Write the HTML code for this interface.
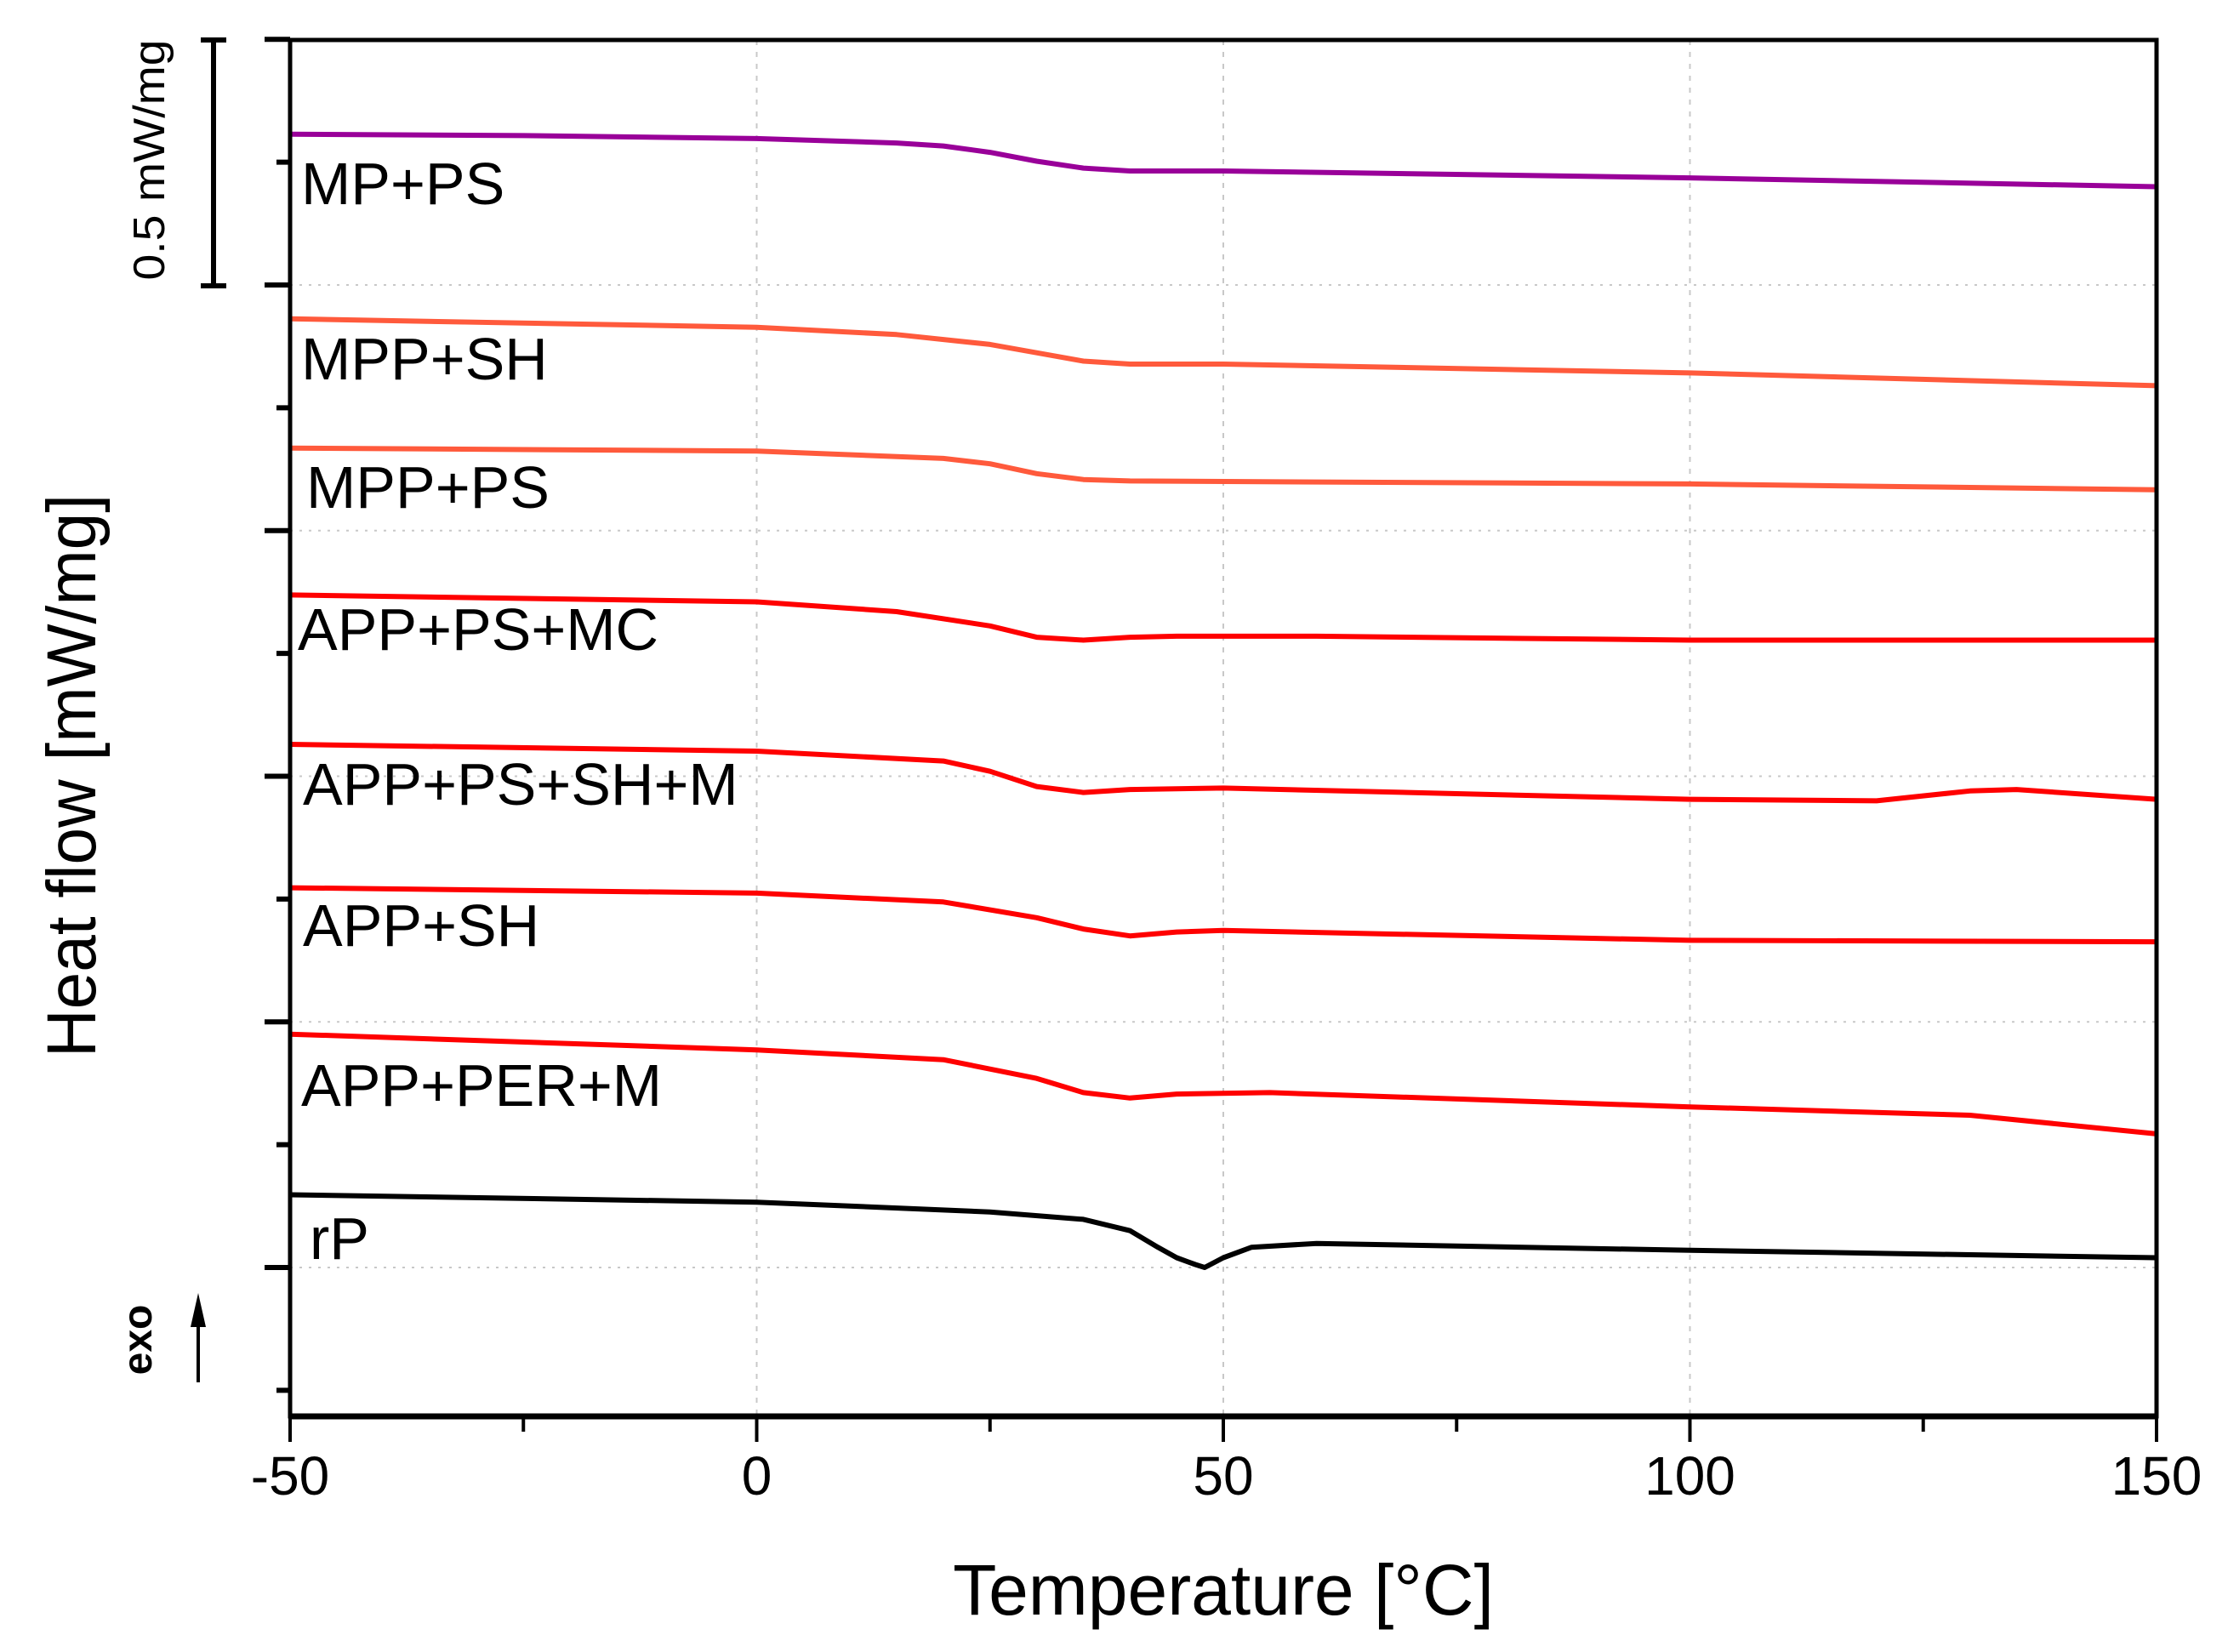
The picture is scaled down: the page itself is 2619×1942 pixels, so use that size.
<!DOCTYPE html>
<html><head><meta charset="utf-8"><style>
html,body{margin:0;padding:0;background:#fff;}
svg{display:block;font-family:"Liberation Sans",Arial,sans-serif;}
</style></head><body>
<svg id="chart" width="2619" height="1942" viewBox="0 0 2619 1942" xmlns="http://www.w3.org/2000/svg">
<g id="grid"></g>
<g id="series"></g>
<g id="axes"></g>
<g id="labels"></g>
<text x="1438" y="1898" font-size="84" text-anchor="middle">Temperature [°C]</text>
<text transform="translate(112,912) rotate(-90)" font-size="82" text-anchor="middle" textLength="662" lengthAdjust="spacingAndGlyphs">Heat flow [mW/mg]</text>
<g>
<line x1="251" y1="47" x2="251" y2="336" stroke="#000" stroke-width="6"/>
<line x1="236" y1="47" x2="266" y2="47" stroke="#000" stroke-width="6"/>
<line x1="236" y1="336" x2="266" y2="336" stroke="#000" stroke-width="6"/>
<text transform="translate(193,188) rotate(-90)" font-size="52" text-anchor="middle" textLength="283" lengthAdjust="spacingAndGlyphs">0.5 mW/mg</text>
</g>
<g>
<line x1="233" y1="1625" x2="233" y2="1555" stroke="#000" stroke-width="4"/>
<polygon points="224,1560 242,1560 233,1520" fill="#000"/>
<text transform="translate(178,1575) rotate(-90)" font-size="48" font-weight="bold" text-anchor="middle">exo</text>
</g>
</svg>
<script>
const temps = {
  mpps:[-50,-25,0,15,20,25,30,35,40,50,100,150],
  mppsh:[-50,0,15,25,30,35,40,50,100,150],
  mppps:[-50,0,20,25,30,35,40,100,150],
  appmc:[-50,0,15,25,30,35,40,45,60,100,150],
  appshm:[-50,0,20,25,30,35,40,50,100,120,130,135,150],
  appsh:[-50,0,20,30,35,40,45,50,100,150],
  apper:[-50,0,20,30,35,40,45,55,100,130,150],
  rp:[-50,0,25,35,40,43,45,47,48,50,53,60,100,150]
};
const valsMPPS=[2.307,2.304,2.298,2.289,2.283,2.270,2.252,2.238,2.232,2.232,2.218,2.200];
const valsMPPSH=[1.931,1.914,1.899,1.879,1.862,1.845,1.839,1.839,1.821,1.795];
const valsMPPPS=[1.668,1.662,1.647,1.636,1.616,1.604,1.601,1.595,1.583];
const valsAPPMC=[1.369,1.355,1.335,1.306,1.283,1.277,1.283,1.285,1.285,1.277,1.277];
const valsAPPSHM=[1.065,1.051,1.031,1.010,0.979,0.967,0.973,0.976,0.953,0.950,0.970,0.973,0.953];
const valsAPPSH=[0.773,0.762,0.744,0.712,0.689,0.675,0.683,0.686,0.666,0.663];
const valsAPPER=[0.475,0.443,0.423,0.385,0.356,0.345,0.353,0.356,0.327,0.310,0.272];
const valsRP=[0.148,0.133,0.113,0.098,0.075,0.041,0.020,0.006,0,0.020,0.041,0.049,0.035,0.020];
const seriesNames=["MP+PS","MPP+SH","MPP+PS","APP+PS+MC","APP+PS+SH+M","APP+SH","APP+PER+M","rP"];
const xTickLabels=["-50","0","50","100","150"];
const xTickValues=[-50,0,50,100,150];
const xMinorValues=[-25,25,75,125];
const yMajorValues=[0,0.5,1,1.5,2,2.5];
const yMinorValues=[-0.25,0.25,0.75,1.25,1.75,2.25];

const L=341,R=2535,T=47,B=1665;
const xs=t=>L+(t+50)*(R-L)/200;
const ys=v=>1490-v*577.5;
const NS="http://www.w3.org/2000/svg";
function mk(tag,attrs,parent){const e=document.createElementNS(NS,tag);for(const k in attrs)e.setAttribute(k,attrs[k]);parent.appendChild(e);return e;}
const grid=document.getElementById('grid'),axes=document.getElementById('axes'),ser=document.getElementById('series'),lab=document.getElementById('labels');
xTickValues.slice(1,-1).forEach(t=>{
  const g=mk('line',{x1:xs(t),x2:xs(t),y1:T,y2:B,stroke:'#c8c8c8','stroke-width':2,'stroke-dasharray':'6,8'},grid);
  
  
});
yMajorValues.slice(0,-1).forEach(v=>{
  const g=mk('line',{x1:L,x2:R,y1:ys(v),y2:ys(v),stroke:'#c8c8c8','stroke-width':2,'stroke-dasharray':'3,8'},grid);
  
  
});
const colors=['#990099','#ff5a3c','#ff5a3c','#ff0000','#ff0000','#ff0000','#ff0000','#000000'];
const tlist=[temps.mpps,temps.mppsh,temps.mppps,temps.appmc,temps.appshm,temps.appsh,temps.apper,temps.rp];
const vlist=[valsMPPS,valsMPPSH,valsMPPPS,valsAPPMC,valsAPPSHM,valsAPPSH,valsAPPER,valsRP];
const labelPos=[[354,240],[354,446],[360,597],[350,764],[356,946],[356,1112],[354,1300],[364,1480]];
vlist.forEach((vals,i)=>{
  const d=vals.map((v,j)=>(j?'L':'M')+xs(tlist[i][j]).toFixed(1)+','+ys(v).toFixed(1)).join(' ');
  const p=mk('path',{d:d,fill:'none',stroke:colors[i],'stroke-width':6,'stroke-linejoin':'round'},ser);
  
  
  const t=mk('text',{x:labelPos[i][0],y:labelPos[i][1],'font-size':70},lab);
  t.textContent=seriesNames[i];
  
  
});
const fr=mk('rect',{x:L,y:T,width:R-L,height:B-T,fill:'none',stroke:'#000','stroke-width':5},axes);


const bx=mk('line',{x1:L,x2:R,y1:B,y2:B,stroke:'#000','stroke-width':7},axes);


xTickValues.forEach((t,i)=>{
  const k=mk('line',{x1:xs(t),x2:xs(t),y1:B,y2:B+30,stroke:'#000','stroke-width':4},axes);
  
  
  const tx=mk('text',{x:xs(t),y:B+92,'font-size':64,'text-anchor':'middle'},axes);
  tx.textContent=xTickLabels[i];
  
  
});
xMinorValues.forEach(t=>{
  const k=mk('line',{x1:xs(t),x2:xs(t),y1:B,y2:B+18,stroke:'#000','stroke-width':4},axes);
  
  
});
yMajorValues.forEach(v=>{
  const k=mk('line',{x1:L-30,x2:L,y1:ys(v),y2:ys(v),stroke:'#000','stroke-width':6},axes);
  
  
});
yMinorValues.forEach(v=>{
  const k=mk('line',{x1:L-16,x2:L,y1:ys(v),y2:ys(v),stroke:'#000','stroke-width':6},axes);
  
  
});
</script>
</body></html>
